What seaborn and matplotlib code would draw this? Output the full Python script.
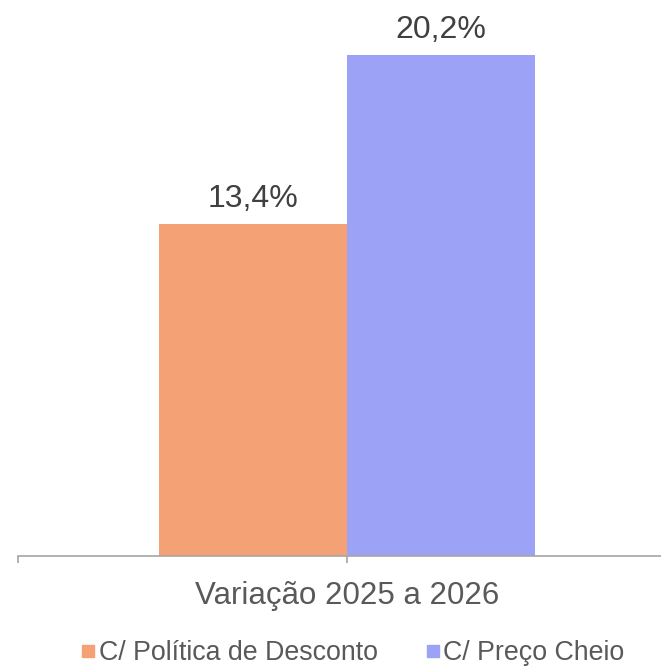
import pandas as pd
import matplotlib.pyplot as plt
import seaborn as sns
from matplotlib.lines import Line2D

category = ["Variação 2025 a 2026"]
series = ["C/ Política de Desconto", "C/ Preço Cheio"]
values = [13.4, 20.2]
colors = ["#F4A176", "#9CA3F6"]

df = pd.DataFrame({"cat": category * len(series), "serie": series, "valor": values})

sns.set_theme(style="white")
plt.rcParams['font.family'] = ['Liberation Sans', 'DejaVu Sans']

fig = plt.figure(figsize=(6.61, 6.70), dpi=100)
ax = fig.add_axes([18 / 661, 114 / 670, 658 / 661, 556 / 670])

sns.barplot(data=df, x="cat", y="valor", hue="serie", palette=colors,
            width=0.5714, dodge=True, saturation=1, legend=False, linewidth=0, ax=ax)

for cont in ax.containers:
	ax.bar_label(cont, labels=[f"{v:.1f}%".replace(".", ",") for v in cont.datavalues],
	             padding=7, fontsize=23, color="#404040")

ax.set_xlim(-0.5, 0.5)
ax.set_ylim(0, 556 / 24.8)
ax.set_xlabel("")
ax.set_ylabel("")
ax.set_yticks([])
ax.set_xticks([0])
ax.set_xticks([-0.5, 0.5], minor=True)
ax.tick_params(axis="x", which="both", bottom=True, direction="out", length=5,
               width=1.2, color="#A6A6A6", labelsize=22.5, labelcolor="#595959", pad=13)
for s in ["top", "left", "right"]:
	ax.spines[s].set_visible(False)
ax.spines["bottom"].set_color("#A6A6A6")
ax.spines["bottom"].set_linewidth(1.2)

handles = [Line2D([], [], marker="s", linestyle="", markersize=8.5, color=c) for c in colors]
fig.legend(handles, series, loc="lower center", bbox_to_anchor=(0.530, -0.03), ncol=2,
           frameon=False, fontsize=19.3, labelcolor="#595959", handletextpad=-0.05,
           columnspacing=1.6, handlelength=0.9)

fig.savefig("out.png", dpi=100)
